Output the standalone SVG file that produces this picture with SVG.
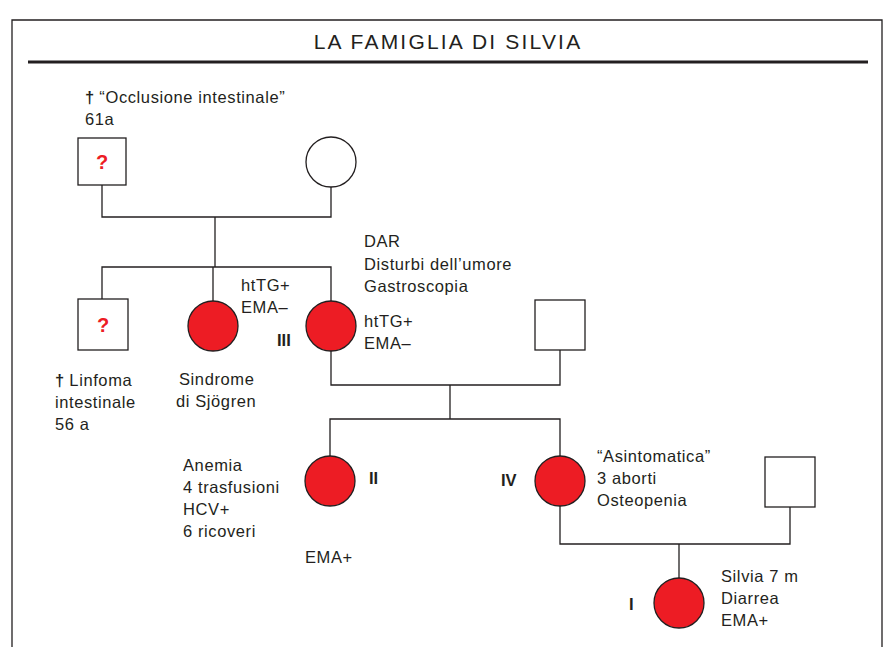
<svg xmlns="http://www.w3.org/2000/svg" width="885" height="647" viewBox="0 0 885 647">
<style>
text{font-family:"Liberation Sans",Arial,sans-serif;font-size:16.5px;letter-spacing:0.6px;fill:#231f20}
.b{font-weight:bold;letter-spacing:0}
.q{font-weight:bold;fill:#ed1c24;font-size:20px;text-anchor:middle;letter-spacing:0}
.sq{fill:#fff;stroke:#231f20;stroke-width:1.3}
.aff{fill:#ed1c24;stroke:#231f20;stroke-width:1.3}
.un{fill:#fff;stroke:#231f20;stroke-width:1.3}
.ln{fill:none;stroke:#231f20;stroke-width:1.3}
</style>
<rect width="885" height="647" fill="#fff"/>
<path d="M12 647 V20 H882 V647" fill="none" stroke="#231f20" stroke-width="1.3"/>
<text x="448" y="49" text-anchor="middle" style="font-size:21px;letter-spacing:2.2px">LA FAMIGLIA DI SILVIA</text>
<line x1="28" y1="62" x2="868" y2="62" stroke="#231f20" stroke-width="3"/>
<g id="connectors">
<path class="ln" d="M102 185 V217 H331 V187"/>
<path class="ln" d="M215 217 V267"/>
<path class="ln" d="M102 299 V267 H331 V301"/>
<path class="ln" d="M213 267 V301"/>
<path class="ln" d="M331 351 V385 H560 V350"/>
<path class="ln" d="M450 385 V419"/>
<path class="ln" d="M330 456 V419 H560 V456"/>
<path class="ln" d="M560 506 V544 H790 V507"/>
<path class="ln" d="M679 544 V578"/>
</g>
<g id="gf">
<rect class="sq" x="78" y="138" width="48" height="47"/>
<text class="q" x="102" y="169">?</text>
<text x="85" y="103"><tspan class="b">†</tspan> “Occlusione intestinale”</text>
<text x="85" y="125">61a</text>
</g>
<g id="gm"><circle class="un" cx="331" cy="162" r="25"/></g>
<g id="uncle">
<rect class="sq" x="78" y="299" width="50" height="51"/>
<text class="q" x="103" y="332">?</text>
<text x="55" y="386"><tspan class="b">†</tspan> Linfoma</text>
<text x="55" y="408">intestinale</text>
<text x="55" y="430">56 a</text>
</g>
<g id="aunt">
<circle class="aff" cx="213" cy="326" r="25"/>
<text x="241" y="291">htTG+</text>
<text x="241" y="313">EMA–</text>
<text x="179" y="385">Sindrome</text>
<text x="176" y="407">di Sjögren</text>
</g>
<g id="gen3">
<circle class="aff" cx="331" cy="326" r="25"/>
<text class="b" x="277" y="346">III</text>
<text x="364" y="247">DAR</text>
<text x="364" y="270">Disturbi dell’umore</text>
<text x="364" y="292">Gastroscopia</text>
<text x="364" y="327">htTG+</text>
<text x="364" y="349">EMA–</text>
</g>
<g id="gf2"><rect class="sq" x="535" y="300" width="50" height="50"/></g>
<g id="gen2">
<circle class="aff" cx="330" cy="481" r="25"/>
<text class="b" x="369" y="484">II</text>
<text x="183" y="471">Anemia</text>
<text x="183" y="493">4 trasfusioni</text>
<text x="183" y="515">HCV+</text>
<text x="183" y="537">6 ricoveri</text>
<text x="305" y="563">EMA+</text>
</g>
<g id="mother">
<circle class="aff" cx="560" cy="481" r="25"/>
<text class="b" x="501" y="486">IV</text>
<text x="597" y="462">“Asintomatica”</text>
<text x="597" y="484">3 aborti</text>
<text x="597" y="506">Osteopenia</text>
</g>
<g id="father"><rect class="sq" x="765" y="457" width="50" height="50"/></g>
<g id="silvia">
<circle class="aff" cx="679" cy="603" r="25"/>
<text class="b" x="629" y="610">I</text>
<text x="721" y="582">Silvia 7 m</text>
<text x="721" y="604">Diarrea</text>
<text x="721" y="626">EMA+</text>
</g>
</svg>
